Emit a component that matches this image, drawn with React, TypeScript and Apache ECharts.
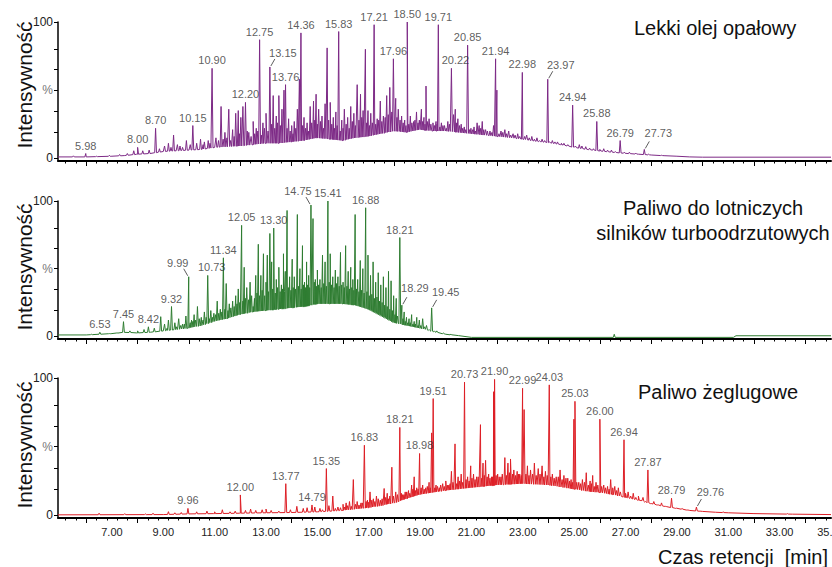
import React, { useEffect, useRef } from "react";
import * as echarts from "echarts";

const FONT = "'Liberation Sans', Arial, Helvetica, sans-serif";

// ---------- axis ticks / labels ----------
const xLabelValues = [7, 9, 11, 13, 15, 17, 19, 21, 23, 25, 27, 29, 31, 33, 35];
const xMajorTicks = [6, 8, 10, 12, 14, 16, 18, 20, 22, 24, 26, 28, 30, 32, 34];
const yLabelValues = [0, 50, 100];
const yTickValues = [0, 19, 34.5, 50, 65, 80, 100];

// ---------- Panel 1: Lekki olej opałowy ----------
const oilBase: number[][] = [
  [4.9, 1], [6, 1], [7, 1.5], [7.5, 2], [8, 3], [8.5, 3.5], [9, 5], [9.5, 5.5], [10, 6], [10.5, 6.5],
  [11, 8], [11.5, 8.5], [12, 9], [12.5, 10], [13, 11], [13.5, 11], [14, 12], [14.5, 13], [15, 15],
  [15.5, 14], [16, 13], [16.5, 15], [17, 16], [17.5, 18], [18, 20], [18.5, 19], [19, 21], [19.5, 20],
  [20, 20], [20.5, 19], [21, 18], [21.5, 17], [22, 16], [22.5, 15], [23, 14], [23.5, 12.5], [24, 11.5],
  [24.5, 10], [25, 8], [25.5, 6.5], [26, 5.4], [26.5, 4.4], [27, 3.6], [27.5, 3], [28, 2.4], [28.5, 1.9],
  [29, 1.5], [29.5, 1], [30, 0.8], [35, 0.8],
];
const oilPeaks: number[][] = [
  [5.5, 1.8], [5.98, 3.5], [6.4, 1.5], [6.9, 2.2], [7.3, 2.8], [7.6, 3.5], [7.85, 5.5], [8.0, 8], [8.2, 5.5],
  [8.45, 6], [8.7, 22], [8.85, 7], [9.05, 9], [9.2, 11], [9.4, 17], [9.55, 10], [9.75, 8], [9.9, 13],
  [10.15, 24], [10.3, 11], [10.45, 14], [10.6, 12], [10.75, 13], [10.9, 66], [11.05, 15], [11.25, 38],
  [11.4, 19], [11.55, 36], [11.7, 21], [11.82, 33], [11.92, 35], [12.02, 30], [12.1, 38], [12.2, 41],
  [12.33, 19], [12.5, 27], [12.62, 22], [12.75, 87], [12.88, 26], [13.0, 33], [13.15, 67], [13.28, 46],
  [13.4, 31], [13.5, 46], [13.62, 36], [13.7, 50], [13.76, 54], [13.88, 29], [14.0, 24], [14.1, 27],
  [14.22, 36], [14.3, 58], [14.36, 92], [14.48, 30], [14.6, 26], [14.72, 38], [14.85, 42], [14.95, 47],
  [15.05, 36], [15.18, 31], [15.3, 40], [15.38, 81], [15.5, 41], [15.62, 30], [15.72, 34], [15.83, 93],
  [15.95, 28], [16.05, 36], [16.18, 30], [16.3, 38], [16.42, 33], [16.55, 54], [16.68, 47], [16.78, 35],
  [16.87, 80], [16.97, 35], [17.08, 33], [17.21, 98], [17.33, 29], [17.45, 42], [17.57, 31], [17.7, 46],
  [17.82, 52], [17.96, 73], [18.05, 44], [18.15, 36], [18.28, 31], [18.4, 28], [18.5, 100], [18.62, 31],
  [18.75, 27], [18.86, 34], [18.97, 28], [19.05, 36], [19.15, 30], [19.23, 53], [19.35, 29], [19.5, 26],
  [19.62, 27], [19.71, 98], [19.83, 26], [19.95, 24], [20.08, 27], [20.22, 66], [20.3, 32], [20.37, 36],
  [20.47, 29], [20.6, 25], [20.72, 23], [20.85, 83], [20.98, 22], [21.1, 23], [21.22, 26], [21.3, 24],
  [21.42, 27], [21.55, 21], [21.72, 20], [21.86, 24], [21.94, 73], [21.99, 50], [22.15, 20], [22.3, 21],
  [22.45, 20], [22.62, 18], [22.8, 18], [22.98, 63], [23.15, 17], [23.35, 16], [23.55, 15], [23.75, 14],
  [23.97, 58], [24.15, 13], [24.35, 12], [24.6, 11], [24.94, 39], [25.2, 10], [25.45, 8.5], [25.88, 27],
  [26.15, 7], [26.45, 6], [26.79, 13], [27.15, 4.5], [27.73, 6.5], [28.4, 2.2],
];
const oilMinorPeaks: number[][] = [
  [9.3, 8], [9.65, 9], [10.05, 10], [10.55, 10], [10.82, 11], [11.15, 13], [11.33, 14], [11.48, 15],
  [11.62, 13], [11.76, 16], [11.97, 18], [12.27, 20], [12.42, 16], [12.56, 18], [12.68, 20], [12.82, 17],
  [12.94, 22], [13.08, 20], [13.22, 25], [13.34, 22], [13.45, 26], [13.56, 24], [13.82, 22], [13.94, 20],
  [14.05, 18], [14.16, 22], [14.42, 24], [14.54, 22], [14.66, 20], [14.78, 26], [14.9, 28], [15.0, 25],
  [15.12, 27], [15.24, 22], [15.44, 28], [15.56, 25], [15.67, 22], [15.77, 24], [15.89, 20], [16.0, 22],
  [16.12, 25], [16.24, 22], [16.36, 27], [16.48, 24], [16.62, 28], [16.73, 30], [16.92, 26], [17.03, 24],
  [17.14, 26], [17.27, 25], [17.39, 28], [17.51, 27], [17.64, 30], [17.76, 32], [17.9, 34], [18.1, 30],
  [18.22, 28], [18.34, 26], [18.45, 24], [18.56, 25], [18.68, 26], [18.8, 28], [18.92, 26], [19.1, 27],
  [19.19, 25], [19.28, 27], [19.42, 25], [19.56, 24], [19.66, 25], [19.77, 23], [19.89, 24], [20.02, 22],
  [20.14, 25], [20.41, 26], [20.53, 24], [20.66, 22], [20.78, 21], [20.92, 21], [21.05, 21], [21.16, 20],
  [21.36, 22], [21.48, 21], [21.62, 20], [21.8, 19], [22.07, 18], [22.22, 19], [22.37, 18], [22.53, 17],
  [22.7, 17], [22.88, 16], [23.07, 16], [23.25, 15], [23.45, 14], [23.65, 13], [23.85, 13], [24.05, 12],
  [24.25, 12], [24.5, 11], [24.75, 10], [25.05, 9], [25.3, 9], [25.6, 7.5], [25.75, 7], [26.0, 6.5],
  [26.3, 6], [26.6, 5], [26.95, 4.5], [27.4, 3.8], [27.9, 3],
];
const oilLabels = ["5.98", "8.00", "8.70", "10.15", "10.90", "12.20", "12.75", "13.15", "13.76", "14.36",
  "15.83", "17.21", "17.96", "18.50", "19.71", "20.22", "20.85", "21.94", "22.98", "23.97", "24.94",
  "25.88", "26.79", "27.73"];
const oilShift: Record<string, number[]> = { "13.15": [13, -6], "20.22": [4, 0], "23.97": [13, -6], "27.73": [14, -8] };

// ---------- Panel 2: Paliwo do lotniczych silników turboodrzutowych ----------
const jetBase: number[][] = [
  [4.9, 1], [6, 1], [6.5, 1.5], [7, 2], [7.5, 3], [8, 2.5], [8.5, 3], [9, 4], [9.5, 5], [10, 6], [10.5, 8],
  [11, 11], [11.5, 13], [12, 16], [12.5, 18], [13, 19], [13.5, 20], [14, 21], [14.5, 22], [15, 24],
  [15.5, 24], [16, 24], [16.5, 23], [17, 20], [17.5, 15], [18, 10], [18.5, 8], [19, 6], [19.5, 3.5],
  [20, 1.5], [20.5, 0.5], [21, -0.8], [31.2, -0.8], [31.3, 0.4], [35, 0.4],
];
const jetPeaks: number[][] = [
  [6.2, 1.5], [6.53, 3], [6.9, 2], [7.2, 2.5], [7.45, 10.8], [7.7, 4], [8.0, 4], [8.25, 5], [8.42, 7],
  [8.65, 6], [8.9, 14.5], [9.05, 9], [9.2, 12], [9.32, 22], [9.45, 10], [9.6, 13], [9.75, 9], [9.88, 15],
  [9.99, 44], [10.1, 12], [10.2, 16], [10.33, 22], [10.48, 14], [10.6, 18], [10.73, 45], [10.85, 19],
  [10.97, 17], [11.1, 26], [11.22, 20], [11.34, 58], [11.45, 39], [11.57, 24], [11.7, 26], [11.82, 30],
  [11.92, 35], [12.05, 82], [12.15, 51], [12.25, 36], [12.38, 40], [12.5, 22], [12.6, 45], [12.7, 68],
  [12.8, 45], [12.9, 61], [13.0, 40], [13.05, 60], [13.15, 76], [13.22, 55], [13.3, 80], [13.4, 42],
  [13.5, 51], [13.6, 38], [13.68, 61], [13.75, 48], [13.82, 93], [13.92, 44], [14.02, 57], [14.1, 44],
  [14.22, 90], [14.32, 50], [14.42, 67], [14.5, 40], [14.58, 55], [14.66, 45], [14.75, 97], [14.83, 87],
  [14.92, 42], [15.0, 49], [15.1, 42], [15.2, 60], [15.3, 55], [15.41, 100], [15.5, 61], [15.6, 44],
  [15.7, 49], [15.8, 44], [15.9, 62], [16.0, 40], [16.1, 67], [16.2, 48], [16.3, 51], [16.38, 42],
  [16.47, 90], [16.57, 42], [16.67, 56], [16.77, 50], [16.88, 95], [16.97, 60], [17.07, 45], [17.17, 55],
  [17.27, 40], [17.37, 47], [17.47, 38], [17.57, 44], [17.67, 36], [17.77, 48], [17.87, 41], [17.97, 30],
  [18.07, 28], [18.21, 73], [18.29, 23], [18.38, 18], [18.47, 14], [18.57, 13], [18.67, 16], [18.77, 11],
  [18.87, 14], [18.97, 12], [19.1, 13], [19.25, 8], [19.45, 21], [19.65, 4], [19.9, 2.5], [20.2, 1.5],
  [26.56, 1.5],
];
const jetMinorPeaks: number[][] = [
  [9.15, 6], [9.52, 7], [9.68, 8], [9.82, 9], [10.05, 10], [10.15, 11], [10.26, 12], [10.4, 13],
  [10.55, 12], [10.67, 14], [10.8, 13], [10.92, 14], [11.04, 16], [11.16, 17], [11.28, 18], [11.4, 20],
  [11.52, 19], [11.63, 21], [11.76, 22], [11.87, 24], [11.98, 25], [12.1, 26], [12.2, 28], [12.32, 27],
  [12.44, 30], [12.55, 28], [12.65, 32], [12.75, 30], [12.85, 34], [12.95, 30], [13.1, 33], [13.26, 35],
  [13.36, 32], [13.45, 36], [13.55, 33], [13.64, 35], [13.72, 33], [13.87, 36], [13.97, 34], [14.06, 36],
  [14.15, 35], [14.27, 37], [14.37, 35], [14.46, 38], [14.54, 36], [14.62, 38], [14.7, 36], [14.88, 40],
  [14.96, 37], [15.05, 38], [15.15, 36], [15.25, 39], [15.35, 37], [15.46, 40], [15.55, 38], [15.65, 36],
  [15.75, 39], [15.85, 37], [15.95, 38], [16.05, 36], [16.15, 37], [16.25, 35], [16.34, 36], [16.42, 34],
  [16.52, 35], [16.62, 33], [16.72, 34], [16.82, 32], [16.93, 33], [17.02, 30], [17.12, 31], [17.22, 28],
  [17.32, 29], [17.42, 26], [17.52, 25], [17.62, 23], [17.72, 22], [17.82, 20], [17.92, 19], [18.02, 16],
  [18.12, 15], [18.33, 13], [18.42, 11], [18.52, 10], [18.62, 10], [18.72, 9], [18.82, 9], [18.92, 8],
  [19.03, 8], [19.17, 7], [19.35, 5], [19.55, 4],
];
const jetLabels = ["6.53", "7.45", "8.42", "9.32", "9.99", "10.73", "11.34", "12.05", "13.30", "14.75",
  "15.41", "16.88", "18.21", "18.29", "19.45"];
const jetShift: Record<string, number[]> = {
  "9.99": [-11, -6], "14.75": [-13, -6], "18.29": [13, -9], "19.45": [14, -8], "10.73": [4, 0],
};

// ---------- Panel 3: Paliwo żeglugowe ----------
const marineBase: number[][] = [
  [4.9, 0.3], [9, 0.5], [10, 1], [11, 1.2], [12, 1.5], [13, 1.8], [14, 2], [15, 2.5], [16, 3.5], [17, 5.5],
  [17.5, 7], [18, 9], [18.5, 12], [19, 15], [19.5, 16.5], [20, 18], [20.5, 19], [21, 20], [21.5, 21],
  [22, 22], [22.5, 22.5], [23, 23], [23.5, 22.5], [24, 22], [24.5, 20.5], [25, 19], [25.5, 17.5],
  [26, 16.5], [26.5, 15], [27, 13], [27.5, 11], [28, 8.5], [28.5, 6.5], [29, 5], [29.5, 3.5], [30, 2.8],
  [30.5, 2.2], [31, 1.8], [32, 1.2], [33.5, 0.8], [35, 0.5],
];
const marinePeaks: number[][] = [
  [6.5, 1.5], [7.5, 1.2], [8.3, 1], [8.6, 1.5], [9.2, 2.6], [9.45, 1.8], [9.7, 2], [9.96, 5], [10.3, 2.5],
  [10.7, 3], [11.0, 2.5], [11.3, 4], [11.6, 2.5], [11.8, 3], [12.0, 14.8], [12.2, 3.5], [12.4, 4.5],
  [12.6, 3.5], [12.85, 4], [13.0, 4.5], [13.2, 3.5], [13.5, 3], [13.77, 23], [13.95, 4], [14.2, 6.5],
  [14.45, 5], [14.6, 5.5], [14.79, 7.5], [14.9, 6], [15.1, 5], [15.35, 34], [15.45, 7], [15.6, 14],
  [15.8, 6], [16.0, 8], [16.12, 9], [16.25, 10], [16.4, 26], [16.55, 10], [16.7, 9], [16.83, 51],
  [16.95, 11], [17.05, 17], [17.18, 12], [17.3, 14], [17.45, 11], [17.6, 19.5], [17.72, 16], [17.82, 14],
  [17.9, 35], [18.05, 17], [18.21, 64], [18.32, 15], [18.42, 17], [18.55, 18], [18.67, 22], [18.77, 28],
  [18.87, 20], [18.98, 45], [19.1, 22], [19.22, 20], [19.35, 24], [19.45, 60], [19.51, 85], [19.62, 22],
  [19.75, 20], [19.88, 23], [20.0, 25], [20.12, 22], [20.22, 32], [20.36, 52], [20.48, 28], [20.6, 30],
  [20.73, 97], [20.85, 28], [20.97, 36], [21.08, 30], [21.2, 28], [21.35, 66], [21.45, 38], [21.55, 40],
  [21.67, 30], [21.78, 28], [21.86, 90], [21.9, 99], [22.02, 30], [22.15, 28], [22.3, 42], [22.42, 38],
  [22.52, 41], [22.65, 33], [22.78, 32], [22.88, 30], [22.99, 92.5], [23.05, 77], [23.18, 36], [23.3, 33],
  [23.45, 38], [23.6, 34], [23.75, 36], [23.88, 32], [24.03, 95], [24.15, 30], [24.3, 28], [24.45, 33],
  [24.6, 29], [24.75, 27], [24.88, 26], [24.99, 70], [25.03, 83], [25.18, 24], [25.32, 26], [25.47, 31],
  [25.62, 25], [25.72, 29], [25.85, 24], [26.0, 70], [26.15, 22], [26.3, 21], [26.42, 26], [26.58, 21],
  [26.72, 20], [26.94, 55], [27.1, 17], [27.3, 16], [27.5, 14], [27.68, 13], [27.87, 33], [28.1, 10],
  [28.4, 9], [28.79, 12.4], [29.2, 5], [29.76, 6], [30.8, 2.5], [33.3, 1.2],
];
const marineMinorPeaks: number[][] = [
  [15.2, 4], [15.7, 5], [15.9, 5.5], [16.05, 6], [16.18, 7], [16.32, 6.5], [16.48, 8], [16.62, 7.5],
  [16.75, 9], [16.9, 10], [17.0, 9.5], [17.12, 11], [17.24, 10], [17.37, 12], [17.52, 12], [17.66, 13],
  [17.77, 12], [17.96, 14], [18.12, 15], [18.27, 16], [18.37, 15], [18.48, 17], [18.6, 16], [18.72, 19],
  [18.82, 18], [18.92, 19], [19.04, 20], [19.16, 19], [19.28, 21], [19.4, 20], [19.57, 20], [19.68, 21],
  [19.8, 22], [19.94, 21], [20.06, 22], [20.17, 23], [20.28, 24], [20.42, 23], [20.54, 25], [20.66, 24],
  [20.79, 26], [20.91, 25], [21.02, 27], [21.14, 26], [21.26, 28], [21.4, 27], [21.5, 29], [21.61, 28],
  [21.72, 27], [21.82, 28], [21.96, 29], [22.08, 28], [22.2, 30], [22.36, 29], [22.48, 31], [22.6, 30],
  [22.72, 29], [22.83, 30], [22.94, 29], [23.12, 30], [23.24, 29], [23.38, 30], [23.52, 29], [23.67, 30],
  [23.82, 28], [23.95, 29], [24.09, 28], [24.22, 27], [24.38, 28], [24.53, 26], [24.68, 27], [24.82, 25],
  [24.94, 24], [25.1, 24], [25.25, 23], [25.4, 24], [25.55, 22], [25.67, 23], [25.78, 21], [25.92, 22],
  [26.07, 21], [26.22, 20], [26.36, 19], [26.5, 20], [26.65, 18], [26.8, 17], [27.0, 16], [27.2, 14],
  [27.4, 13], [27.6, 11], [27.78, 10], [28.0, 9], [28.25, 7.5], [28.55, 6.5], [28.95, 5], [29.4, 3.8],
  [29.9, 3],
];
const marineLabels = ["9.96", "12.00", "13.77", "14.79", "15.35", "16.83", "18.21", "18.98", "19.51",
  "20.73", "21.90", "22.99", "24.03", "25.03", "26.00", "26.94", "27.87", "28.79", "29.76"];
const marineShift: Record<string, number[]> = { "29.76": [14, -7] };

// ---------- helpers ----------
const HW = 0.035;

function baseAt(base: number[][], t: number): number {
  for (let i = 0; i < base.length - 1; i++) {
    const a = base[i], b = base[i + 1];
    if (t >= a[0] && t <= b[0]) {
      const f = (t - a[0]) / (b[0] - a[0] || 1);
      return a[1] + f * (b[1] - a[1]);
    }
  }
  return base[base.length - 1][1];
}

function buildTrace(base: number[][], peaks: number[][], minor: number[][]): number[][] {
  const pts: number[][] = base.map((p) => [p[0], p[1]]);
  peaks.concat(minor).forEach(([t, h]) => {
    const b = baseAt(base, t);
    pts.push([t - HW, b], [t, h], [t + HW, b]);
  });
  pts.sort((a, b) => a[0] - b[0]);
  return pts;
}

function findPeak(peaks: number[][], lbl: string): number[] {
  const v = parseFloat(lbl);
  const p = peaks.find((q) => Math.abs(q[0] - v) < 1e-6);
  return p ? p : [v, 0];
}

const panels = [
  { base: oilBase, peaks: oilPeaks, minor: oilMinorPeaks, labels: oilLabels, shift: oilShift, color: "#7d2a86", top: 22, height: 139 },
  { base: jetBase, peaks: jetPeaks, minor: jetMinorPeaks, labels: jetLabels, shift: jetShift, color: "#2f7d32", top: 201, height: 138 },
  { base: marineBase, peaks: marinePeaks, minor: marineMinorPeaks, labels: marineLabels, shift: marineShift, color: "#dd1f26", top: 378, height: 140 },
];

export default function App() {
  const ref = useRef<HTMLDivElement>(null);

  useEffect(() => {
    if (!ref.current) return;
    const chart = echarts.init(ref.current, null, { renderer: "svg" });

    const minorTicks: number[] = [];
    for (let k = 13; k <= 87; k++) {
      if (k % 5 !== 0) minorTicks.push(Math.round(k * 0.4 * 100) / 100);
    }

    const grid: any[] = [];
    const xAxis: any[] = [];
    const yAxis: any[] = [];
    const series: any[] = [];

    panels.forEach((p, i) => {
      grid.push({ left: 58, right: 1, top: p.top, height: p.height, containLabel: false, outerBoundsMode: "none" });
      const isLast = i === panels.length - 1;
      xAxis.push({
        type: "value", gridIndex: i, min: 4.9, max: 35, position: "bottom",
        axisLine: { show: true, onZero: false, lineStyle: { color: "#000", width: 2 } },
        axisTick: { show: true, customValues: xMajorTicks, length: 5, lineStyle: { color: "#000", width: 1 } },
        axisLabel: {
          show: isLast, customValues: xLabelValues, margin: 8, alignMaxLabel: "center", alignMinLabel: "center",
          hideOverlap: false,
          formatter: (v: number) => v.toFixed(2), fontSize: 11, fontFamily: FONT, color: "#222",
        },
        splitLine: { show: false },
      });
      xAxis.push({
        type: "value", gridIndex: i, min: 4.9, max: 35, position: "bottom",
        axisLine: { show: false, onZero: false },
        axisTick: { show: true, customValues: minorTicks, length: 2.5, lineStyle: { color: "#000", width: 1 } },
        axisLabel: { show: false },
        splitLine: { show: false },
      });
      yAxis.push({
        type: "value", gridIndex: i, min: -2, max: 100,
        axisLine: { show: true, onZero: false, lineStyle: { color: "#000", width: 1.5 } },
        axisTick: { show: true, customValues: yTickValues, length: 4, lineStyle: { color: "#000", width: 1 } },
        axisLabel: {
          show: true, customValues: yLabelValues, margin: 5, fontSize: 12, fontFamily: FONT, color: "#222",
          formatter: (v: number) => (v === 50 ? "{g|%}" : String(v)),
          rich: { g: { color: "#777", fontSize: 12, fontFamily: FONT } },
        },
        splitLine: { show: false },
      });
      series.push({
        type: "line", xAxisIndex: i * 2, yAxisIndex: i, data: buildTrace(p.base, p.peaks, p.minor),
        symbol: "none", showSymbol: false, silent: true, z: 2, clip: true,
        lineStyle: { width: 1, color: p.color }, itemStyle: { color: p.color },
      });
      series.push({
        type: "scatter", xAxisIndex: i * 2, yAxisIndex: i, symbolSize: 1, silent: true, z: 5,
        itemStyle: { color: "rgba(0,0,0,0)" },
        label: {
          show: true, position: "top", distance: 2, formatter: "{b}",
          fontSize: 11, fontFamily: FONT, color: "#333",
        },
        data: p.labels.map((lbl) => {
          const pk = findPeak(p.peaks, lbl);
          const sh = p.shift[lbl] || [0, 0];
          return { name: lbl, value: [pk[0], pk[1]], label: { offset: sh } };
        }),
      });
    });

    chart.setOption({
      animation: false,
      backgroundColor: "#fff",
      grid, xAxis, yAxis, series,
    });

    const txt = (text: string, x: number, y: number, align: string) => ({
      type: "text", x, y, silent: true,
      style: {
        text, font: `20px ${FONT}`, fill: "#111",
        textAlign: align, textVerticalAlign: "middle", align, verticalAlign: "middle",
      },
    });

    const graphics: any[] = [
      txt("Lekki olej opałowy", 634, 28, "left"),
      txt("Paliwo do lotniczych", 713, 208, "center"),
      txt("silników turboodrzutowych", 713, 233, "center"),
      txt("Paliwo żeglugowe", 638, 392, "left"),
      txt("Czas retencji\u00a0 [min]", 658, 557, "left"),
    ];
    [85, 267, 445].forEach((cy) => {
      graphics.push({
        type: "text", x: 24, y: cy, rotation: Math.PI / 2, silent: true,
        style: {
          text: "Intensywność", font: `21px ${FONT}`, fill: "#111",
          textAlign: "center", textVerticalAlign: "middle", align: "center", verticalAlign: "middle",
        },
      });
    });

    panels.forEach((p, i) => {
      p.labels.forEach((lbl) => {
        const sh = p.shift[lbl];
        if (!sh || Math.abs(sh[1]) < 5) return;
        const pk = findPeak(p.peaks, lbl);
        const px = chart.convertToPixel({ seriesIndex: i * 2 }, [pk[0], pk[1]]) as number[];
        if (!px) return;
        const s = sh[0] > 0 ? 1 : -1;
        graphics.push({
          type: "line", silent: true,
          shape: { x1: px[0] + s * 1, y1: px[1] - 1, x2: px[0] + s * 5, y2: px[1] - 8 },
          style: { stroke: "#333", lineWidth: 0.8 },
        });
      });
    });

    chart.setOption({ graphic: graphics });

    return () => chart.dispose();
  }, []);

  return (
    <div
      ref={ref}
      style={{ position: "fixed", left: 0, top: 0, width: 832, height: 567, background: "#fff" }}
    />
  );
}
